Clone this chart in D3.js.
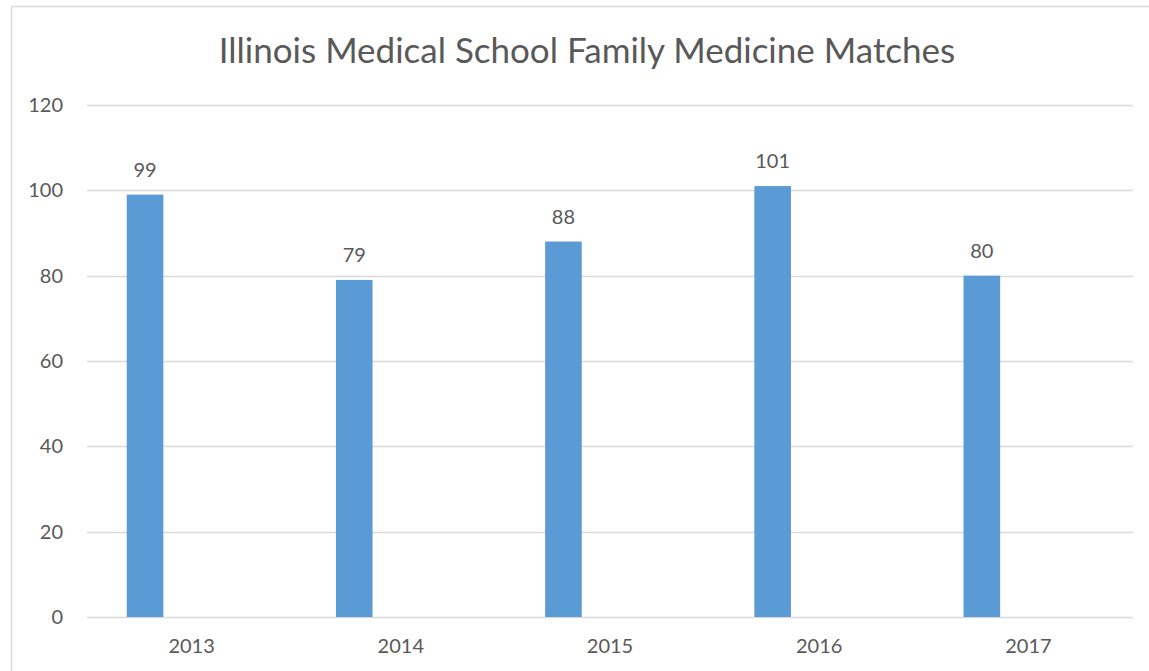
<!DOCTYPE html>
<html>
<head>
<meta charset="utf-8">
<script src="https://cdn.jsdelivr.net/npm/d3@7"></script>
<style>
  body { margin: 0; background: #fff; }
  text { font-family: Lato, "Open Sans", sans-serif; fill: #595959; }
</style>
</head>
<body>
<div id="chart"></div>
<script>
// chart data
const years = ["2013", "2014", "2015", "2016", "2017"];
const matches = [99, 79, 88, 101, 80];
const yTicks = [0, 20, 40, 60, 80, 100, 120];
const title = "Illinois Medical School Family Medicine Matches";

const width = 1149, height = 671;
const margin = {top: 105, right: 16, bottom: 54, left: 87};
const innerWidth = width - margin.left - margin.right;
const innerHeight = height - margin.top - margin.bottom;

const root = d3.select("#chart")
    .append("svg")
    .attr("width", width)
    .attr("height", height);

// chart border: only its left and top edges are inside the picture
root.append("path")
    .attr("d", `M11.5,${height} V6.5 H${width}`)
    .attr("fill", "none")
    .attr("stroke", "#d9d9d9")
    .attr("stroke-width", 1.5);

root.append("text")
    .attr("x", 587)
    .attr("y", 63)
    .attr("text-anchor", "middle")
    .style("font-size", "35px")
    .text(title);

const svg = root.append("g")
    .attr("transform", `translate(${margin.left},${margin.top})`);

const xScale = d3.scaleBand().domain(years).range([0, innerWidth]);
const yScale = d3.scaleLinear().domain([0, 120]).range([innerHeight, 0]);

// gridlines
svg.append("g")
    .selectAll("line")
    .data(yTicks)
    .join("line")
    .attr("x1", 0)
    .attr("x2", innerWidth)
    .attr("y1", d => Math.round(yScale(d)) + 0.5)
    .attr("y2", d => Math.round(yScale(d)) + 0.5)
    .attr("stroke", "#d9d9d9")
    .attr("stroke-width", 1.5);

// y axis labels
const yAxis = svg.append("g")
    .call(d3.axisLeft(yScale).tickValues(yTicks).tickSize(0).tickPadding(24));
yAxis.select(".domain").remove();
yAxis.selectAll("text").style("font-size", "20px").attr("fill", "#595959");

// x axis labels
const xAxis = svg.append("g")
    .attr("transform", `translate(0,${innerHeight})`)
    .call(d3.axisBottom(xScale).tickSize(0).tickPadding(22));
xAxis.select(".domain").remove();
xAxis.selectAll("text").style("font-size", "20px").attr("fill", "#595959");

// bars sit in the left part of each category slot
const barOffset = xScale.bandwidth() * 0.19;
const barWidth = xScale.bandwidth() * 0.175;

svg.append("g")
    .selectAll("rect")
    .data(years)
    .join("rect")
    .attr("x", (d, i) => xScale(d) + barOffset)
    .attr("y", (d, i) => yScale(matches[i]))
    .attr("width", barWidth)
    .attr("height", (d, i) => innerHeight - yScale(matches[i]))
    .attr("fill", "#5b9bd5");

// value labels
svg.append("g")
    .selectAll("text")
    .data(years)
    .join("text")
    .attr("x", (d, i) => xScale(d) + barOffset + barWidth / 2)
    .attr("y", (d, i) => yScale(matches[i]) - 18)
    .attr("text-anchor", "middle")
    .style("font-size", "20px")
    .text((d, i) => matches[i]);
</script>
</body>
</html>
